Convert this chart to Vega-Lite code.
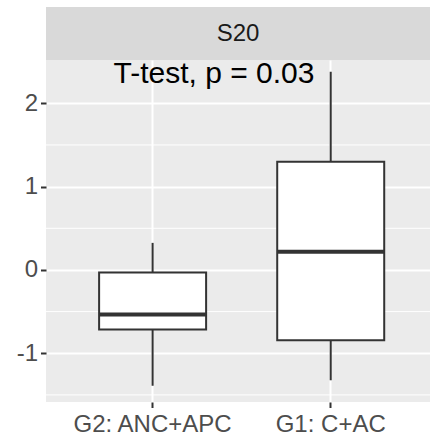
{
  "$schema": "https://vega.github.io/schema/vega-lite/v6.json",
  "padding": {"left": 16, "top": 7, "right": 0, "bottom": 0},
  "background": "white",
  "config": {
    "view": {"stroke": null},
    "font": "Liberation Sans",
    "axis": {"labelFontSize": 24, "labelColor": "#4d4d4d", "tickColor": "#333333", "tickWidth": 2, "tickSize": 5.5,
             "domain": false, "grid": true, "gridColor": "white", "gridWidth": 2},
    "axisX": {"labelAngle": 0, "labelPadding": 5},
    "axisY": {"labelPadding": 3, "tickCount": 4, "labelExpr": "replace(datum.label, '\u2212', '-')"}
  },
  "bounds": "flush",
  "spacing": 0,
  "vconcat": [
    {
      "width": 384,
      "height": 53,
      "view": {"fill": "#d9d9d9", "stroke": null},
      "data": {"values": [{"panel": "S20"}]},
      "mark": {"type": "text", "fontSize": 24, "color": "#1a1a1a", "baseline": "middle", "align": "center"},
      "encoding": {"text": {"field": "panel", "type": "nominal"}}
    },
    {
      "width": 384,
      "height": 342,
      "view": {"fill": "#ebebeb", "stroke": null},
      "resolve": {"scale": {"x": "independent"}},
      "layer": [
        {
          "data": {"values": [
            {"group": "G2: ANC+APC", "min": -1.39, "q1": -0.714, "median": -0.534, "q3": -0.03, "max": 0.325},
            {"group": "G1: C+AC", "min": -1.323, "q1": -0.843, "median": 0.217, "q3": 1.298, "max": 2.378}
          ]},
          "layer": [
            {
              "data": {"values": [{"g": -1.5}, {"g": -0.5}, {"g": 0.5}, {"g": 1.5}]},
              "mark": {"type": "rule", "color": "white", "strokeWidth": 1},
              "encoding": {
                "y": {"field": "g", "type": "quantitative", "title": null,
                      "scale": {"domain": [-1.585, 2.52], "nice": false, "zero": false}}
              }
            },
            {
              "mark": {"type": "rule", "color": "#333333", "strokeWidth": 2},
              "encoding": {
                "x": {"field": "group", "type": "nominal", "title": null, "sort": null,
                      "scale": {"domain": ["G2: ANC+APC", "G1: C+AC"], "paddingInner": 0.4, "paddingOuter": 0.278, "align": 0.537}},
                "y": {"field": "min", "type": "quantitative", "title": null,
                      "scale": {"domain": [-1.585, 2.52], "nice": false, "zero": false}},
                "y2": {"field": "max"}
              }
            },
            {
              "mark": {"type": "bar", "size": 107, "fill": "white", "stroke": "#333333", "strokeWidth": 2},
              "encoding": {
                "x": {"field": "group", "type": "nominal", "title": null, "sort": null,
                      "scale": {"domain": ["G2: ANC+APC", "G1: C+AC"], "paddingInner": 0.4, "paddingOuter": 0.278, "align": 0.537}},
                "y": {"field": "q1", "type": "quantitative", "title": null,
                      "scale": {"domain": [-1.585, 2.52], "nice": false, "zero": false}},
                "y2": {"field": "q3"}
              }
            },
            {
              "mark": {"type": "tick", "size": 107, "thickness": 4, "color": "#333333", "opacity": 1},
              "encoding": {
                "x": {"field": "group", "type": "nominal", "title": null, "sort": null,
                      "scale": {"domain": ["G2: ANC+APC", "G1: C+AC"], "paddingInner": 0.4, "paddingOuter": 0.278, "align": 0.537}},
                "y": {"field": "median", "type": "quantitative", "title": null,
                      "scale": {"domain": [-1.585, 2.52], "nice": false, "zero": false}}
              }
            }
          ]
        },
        {
          "data": {"values": [{"label": "T-test, p = 0.03", "xpos": 1.345, "ypos": 2.246}]},
          "mark": {"type": "text", "fontSize": 30, "color": "black", "align": "center", "baseline": "alphabetic"},
          "encoding": {
            "x": {"field": "xpos", "type": "quantitative", "axis": null, "title": null,
                  "scale": {"domain": [0.4, 2.56], "nice": false, "zero": false}},
            "y": {"field": "ypos", "type": "quantitative", "title": null,
                  "scale": {"domain": [-1.585, 2.52], "nice": false, "zero": false}},
            "text": {"field": "label", "type": "nominal"}
          }
        }
      ]
    }
  ]
}
